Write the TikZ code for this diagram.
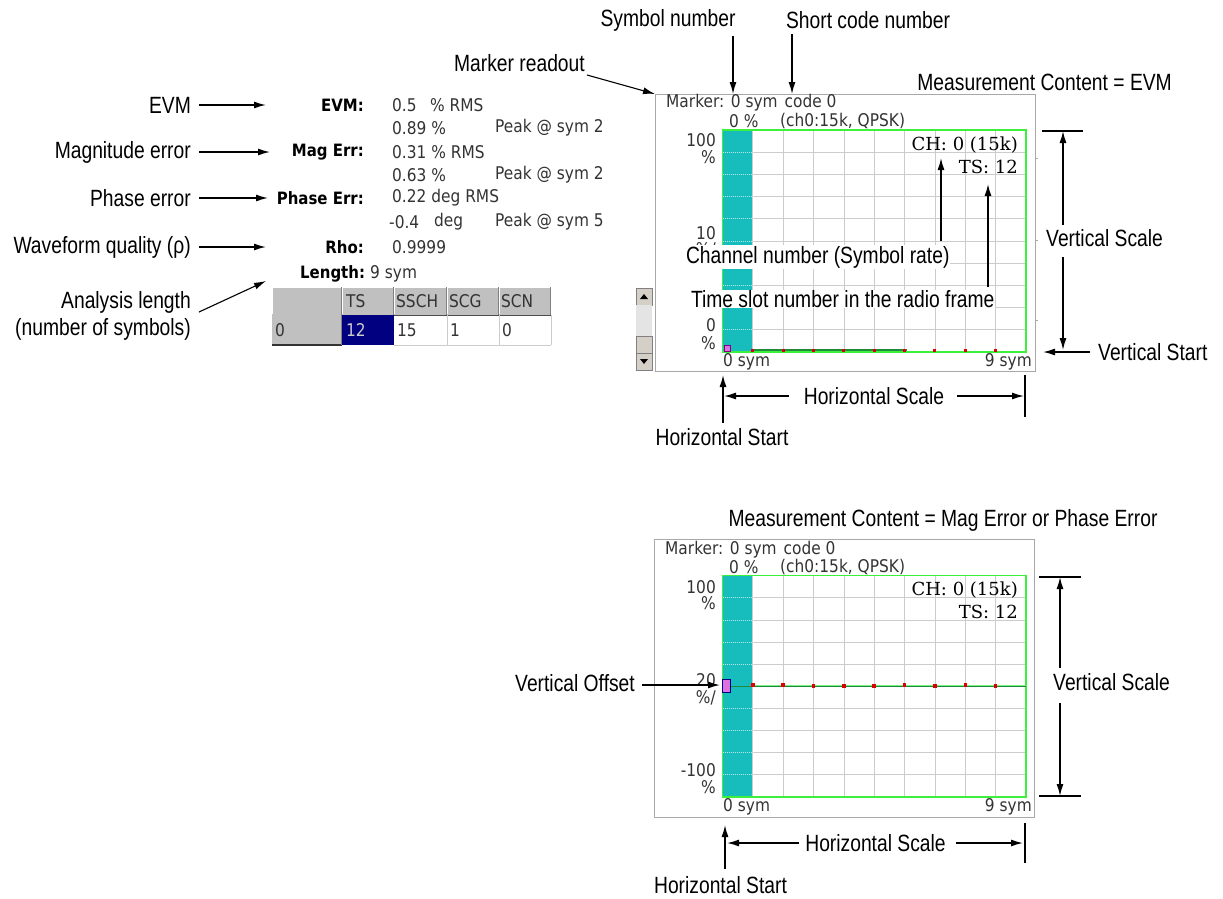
\documentclass[tikz,border=0pt]{standalone}
\usepackage{fontspec}
\setmainfont{Liberation Sans}
\newfontfamily\labf{Liberation Sans}[FakeStretch=0.82]
\newfontfamily\scrf{DejaVu Sans}[FakeStretch=0.88]
\newfontfamily\serf{DejaVu Serif}
\usetikzlibrary{arrows.meta}
\definecolor{gridgray}{HTML}{CCCCCC}
\definecolor{framegray}{HTML}{A8A8A8}
\definecolor{scrgreen}{HTML}{3CF03C}
\definecolor{tealcol}{HTML}{17BDBD}
\definecolor{navycell}{HTML}{000080}
\definecolor{btngray}{HTML}{D4D0C8}
\definecolor{tracegreen}{HTML}{1E8A3C}
\definecolor{tracelight}{HTML}{7CF07C}
\definecolor{scrtext}{HTML}{333333}
\definecolor{hdrgray}{HTML}{C0C0C0}
\definecolor{darkbevel}{HTML}{808080}
\definecolor{trackgray}{HTML}{E4E4E4}
\definecolor{mkfill}{HTML}{E070E0}
\tikzset{
  labtxt/.style={font=\labf\fontsize{23.5}{27}\selectfont, inner sep=0pt},
  scrtxt/.style={font=\scrf\fontsize{17.5}{20}\selectfont, text=scrtext, inner sep=0pt},
  scrbold/.style={font=\scrf\bfseries\fontsize{17}{20}\selectfont, text=black, inner sep=0pt},
  sertxt/.style={font=\serf\fontsize{18}{22}\selectfont, inner sep=0pt},
  arrw/.style={-{Latex[length=12pt,width=7pt]}, line width=1.4pt},
  plainln/.style={line width=1.6pt},
  framebox/.style={draw=framegray, line width=1pt, inner sep=0pt, anchor=north west},
  gridln/.style={draw=gridgray, line width=0.8pt},
  greenbox/.style={draw=scrgreen, line width=1.5pt},
  redpt/.style={fill=red!85!black},
  whitelab/.style={fill=white, inner sep=0.8pt},
  btnbox/.style={draw=darkbevel, fill=btngray, minimum width=16pt, inner sep=0pt, anchor=north west}
}
\newcommand{\scrgrid}[2]{%
  \fill[tealcol] (722.5,#1) rectangle (752.8,#2);
  \foreach \i in {1,...,9} {\draw[gridln] ({722.5+\i*30.35},#1) -- ({722.5+\i*30.35},#2);}
  \foreach \j in {1,...,9} {%
    \draw[gridln] (752.8,{#1+\j*(#2-#1)/10}) -- (1026,{#1+\j*(#2-#1)/10});
    \draw[draw=white!65!tealcol, line width=0.8pt, dash pattern=on 1pt off 1pt] (722.5,{#1+\j*(#2-#1)/10}) -- (752.8,{#1+\j*(#2-#1)/10});}
  \draw[greenbox] (722.5,#1) rectangle (1026,#2);
}
\begin{document}
\begin{tikzpicture}[x=1pt,y=-1pt]
\useasboundingbox (0,0) rectangle (1223,898);

% ================= left readout =================
\node[labtxt, anchor=east] (lEVM) at (191,105) {EVM};
\node[labtxt, anchor=east] (lMag) at (191,152) {Magnitude error};
\node[labtxt, anchor=east] (lPh) at (191,198) {Phase error};
\node[labtxt, anchor=east] (lRho) at (191,247) {Waveform quality (ρ)};
\node[labtxt, anchor=east, align=right] (lLen) at (191,316) {Analysis length\\(number of symbols)};

\coordinate (tEVM) at (266,105);
\coordinate (tMag) at (270,152);
\coordinate (tPh) at (268,198);
\coordinate (tRho) at (266,247);
\coordinate (tLen) at (266,281);
\draw[arrw] ([xshift=8pt]lEVM.east) -- (tEVM);
\draw[arrw] ([xshift=8pt]lMag.east) -- (tMag);
\draw[arrw] ([xshift=8pt]lPh.east) -- (tPh);
\draw[arrw] ([xshift=8pt]lRho.east) -- (tRho);
\draw[arrw, line width=1.1pt] ([xshift=8pt,yshift=4pt]lLen.east) -- (tLen);

\node[scrbold, anchor=east] (rEVM) at (364,105) {EVM:};
\node[scrbold, anchor=east] (rMag) at (364,152) {Mag Err:};
\node[scrbold, anchor=east] (rPh) at (364,198) {Phase Err:};
\node[scrbold, anchor=east] (rRho) at (364,247) {Rho:};
\node[scrbold, anchor=west] (rLen) at (300,274) {Length:};
\node[scrtxt, anchor=west] (vLen) at (370,274) {9 sym};

\node[scrtxt, anchor=west] (v1a) at (392,105) {0.5};
\node[scrtxt, anchor=west] (v1b) at (430,105) {\% RMS};
\node[scrtxt, anchor=west] (v2a) at (392,128) {0.89 \%};
\node[scrtxt, anchor=west] (v2b) at (495,128) {Peak @ sym 2};
\node[scrtxt, anchor=west] (v3a) at (392,152) {0.31 \% RMS};
\node[scrtxt, anchor=west] (v4a) at (392,175) {0.63 \%};
\node[scrtxt, anchor=west] (v4b) at (495,175) {Peak @ sym 2};
\node[scrtxt, anchor=west] (v5a) at (392,198) {0.22 deg RMS};
\node[scrtxt, anchor=west] (v6a) at (389,222) {-0.4};
\node[scrtxt, anchor=west] (v6b) at (434,222) {deg};
\node[scrtxt, anchor=west] (v6c) at (495,222) {Peak @ sym 5};
\node[scrtxt, anchor=west] (v7a) at (392,247) {0.9999};

% table
\fill[hdrgray] (272,287) rectangle (551,315);
\foreach \xa/\xb in {272/342,342/394,394/447,447/499,499/551} {
  \draw[white, line width=1pt] (\xa+0.5,314) -- (\xa+0.5,287.5) -- (\xb-1,287.5);
  \draw[darkbevel, line width=1pt] (\xb-0.5,287) -- (\xb-0.5,315);
}
\draw[black!70, line width=1pt] (272,315) -- (551,315);
\fill[hdrgray] (272,315) rectangle (342,345);
\draw[black!80, line width=1.5pt] (272,345) -- (342,345);
\draw[darkbevel, line width=1pt] (341.5,315) -- (341.5,345);
\fill[navycell] (342,315) rectangle (394,345);
\draw[gridgray, line width=1pt] (447,315) -- (447,345) (499,315) -- (499,345) (394,345) -- (551,345) (551,315) -- (551,345);
\node[scrtxt, anchor=west] (hTS) at (346,301) {TS};
\node[scrtxt, anchor=west] (hSS) at (396,301) {SSCH};
\node[scrtxt, anchor=west] (hSG) at (449,301) {SCG};
\node[scrtxt, anchor=west] (hSN) at (501,301) {SCN};
\node[scrtxt, anchor=west] (c0) at (275,330) {0};
\node[scrtxt, anchor=west, text=black!20] (c1) at (346,330) {12};
\node[scrtxt, anchor=west] (c2) at (397,330) {15};
\node[scrtxt, anchor=west] (c3) at (450,330) {1};
\node[scrtxt, anchor=west] (c4) at (502,330) {0};

% ================= top screen =================
\node[labtxt] (symn) at (668,20) {Symbol number};
\node[labtxt] (shcn) at (868,20) {Short code number};
\node[labtxt, anchor=east] (mkr) at (585,63) {Marker readout};
\node[labtxt, anchor=east] (mc1) at (1172,82) {Measurement Content = EVM};

\node[framebox, minimum width=380pt, minimum height=277pt] (scr1) at (655,94) {};
\coordinate (symtip) at (733,94);
\coordinate (shctip) at (792,94);
\draw[arrw] ([yshift=-5pt]symn.south -| symtip) -- (symtip);
\draw[arrw] ([yshift=-5pt]shcn.south -| shctip) -- (shctip);
\draw[arrw, line width=1.1pt] ([xshift=2pt,yshift=-12pt]mkr.east) -- (scr1.north west);
\foreach \yy in {158,240,320} {\draw[framegray, line width=1pt] (1035,\yy) -- (1038,\yy);}

% scrollbar
\node[btnbox, minimum height=17pt] (upb) at (636,288) {};
\fill[trackgray] (636,305) rectangle (652,336);
\node[btnbox, minimum height=17pt] (thb) at (636,336) {};
\node[btnbox, minimum height=17pt] (dnb) at (636,353) {};
\fill (640,299) -- (648,299) -- (644,294) -- cycle;
\fill (640,359) -- (648,359) -- (644,364) -- cycle;

\node[scrtxt, anchor=west] (m1a) at (666,103) {Marker: 0 sym\hspace{7pt}code 0};
\node[scrtxt, anchor=west] (m1b) at (729,121) {0 \%};
\node[scrtxt, anchor=west] (m1c) at (780,121) {(ch0:15k, QPSK)};

\scrgrid{130}{352}

\node[scrtxt, anchor=east] (y1a) at (716,140) {100};
\node[scrtxt, anchor=east] (y1b) at (716,157) {\%};
\node[scrtxt, anchor=east] (y1c) at (716,233) {10};
\node[scrtxt, anchor=east] (y1d) at (716,250) {\%/};
\node[scrtxt, anchor=east] (y1e) at (716,325) {0};
\node[scrtxt, anchor=east] (y1f) at (716,343) {\%};
\node[scrtxt, anchor=west] (x1a) at (723,362) {0 sym};
\node[scrtxt, anchor=east] (x1b) at (1032,362) {9 sym};
\node[sertxt, anchor=east] (ch1) at (1018,145) {CH: 0 (15k)};
\node[sertxt, anchor=east] (ts1) at (1018,167) {TS: 12};

% trace top
\draw[tracegreen, line width=1.5pt] (753,350) -- (907,350);
\foreach \i in {1,...,9} {\fill[redpt] ({722.5+\i*30.35-1.5},348.5) rectangle ++(3,3);}
\draw[violet, line width=1pt, fill=mkfill] (724.5,345) rectangle (730.5,351);

% labels inside top screen
\node[labtxt, whitelab, anchor=west] (chn) at (685,257) {Channel number (Symbol rate)};
\node[labtxt, whitelab, anchor=west] (tsn) at (690,299) {Time slot number in the radio frame};
\coordinate (chtip) at (941,158);
\coordinate (tstip) at (988,184);
\draw[arrw] ([yshift=4pt]chn.north -| chtip) -- (chtip);
\draw[arrw] ([yshift=2pt]tsn.north -| tstip) -- (tstip);

% right annotations top
\node[labtxt, anchor=west] (vsc1) at (1046,238) {Vertical Scale};
\coordinate (vs1top) at (1063,131);
\coordinate (vs1bot) at (1063,350);
\coordinate (tk1a) at (1042,131);
\coordinate (tk1b) at (1083,131);
\draw[plainln] (tk1a) -- (tk1b);
\draw[arrw] ([yshift=4pt]vsc1.north -| vs1top) -- (vs1top);
\draw[arrw] ([yshift=-10pt]vsc1.south -| vs1bot) -- (vs1bot);
\node[labtxt, anchor=west] (vst1) at (1098,352) {Vertical Start};
\coordinate (vst1tip) at (1043,352);
\draw[arrw] ([xshift=-8pt]vst1.west) -- (vst1tip);

% horizontal annotations top
\node[labtxt] (hsc1) at (874,396) {Horizontal Scale};
\coordinate (hs1l) at (724,396);
\coordinate (hs1r) at (1024,396);
\draw[arrw] ([xshift=-15pt]hsc1.west) -- (hs1l);
\draw[arrw] ([xshift=13pt]hsc1.east) -- (hs1r);
\coordinate (hb1a) at (1025,375);
\coordinate (hb1b) at (1025,417);
\draw[plainln] (hb1a) -- (hb1b);
\node[labtxt] (hst1) at (722,437) {Horizontal Start};
\coordinate (hst1tip) at (723,375);
\draw[arrw] ([yshift=5pt]hst1.north -| hst1tip) -- (hst1tip);

% ================= bottom screen =================
\node[labtxt] (mc2) at (943,520) {Measurement Content = Mag Error or Phase Error};
\node[framebox, minimum width=380pt, minimum height=278pt] (scr2) at (654,539) {};
\node[scrtxt, anchor=west] (m2a) at (665,550) {Marker: 0 sym\hspace{7pt}code 0};
\node[scrtxt, anchor=west] (m2b) at (729,567) {0 \%};
\node[scrtxt, anchor=west] (m2c) at (780,567) {(ch0:15k, QPSK)};

\scrgrid{575.7}{797}

\node[scrtxt, anchor=east] (y2a) at (716,587) {100};
\node[scrtxt, anchor=east] (y2b) at (716,603) {\%};
\node[scrtxt, anchor=east] (y2c) at (716,680) {20};
\node[scrtxt, anchor=east] (y2d) at (716,698) {\%/};
\node[scrtxt, anchor=east] (y2e) at (716,770) {-100};
\node[scrtxt, anchor=east] (y2f) at (716,787) {\%};
\node[scrtxt, anchor=west] (x2a) at (723,807) {0 sym};
\node[scrtxt, anchor=east] (x2b) at (1032,807) {9 sym};
\node[sertxt, anchor=east] (ch2) at (1018,590) {CH: 0 (15k)};
\node[sertxt, anchor=east] (ts2) at (1018,612) {TS: 12};

% trace bottom
\draw[tracelight, line width=2.5pt] (753,686) -- (1026,686);
\draw[tracegreen, line width=1pt] (722.5,686) -- (1026,686);
\foreach \i/\dy in {1/-1,2/-1,3/0,4/0,5/0,6/-1,7/0,8/-1,9/0} {\fill[redpt] ({722.5+\i*30.35-1.8},{684.2+\dy}) rectangle ++(3.6,3.6);}
\draw[navycell, line width=1pt, fill=mkfill] (722.5,679) rectangle (730,692);

\node[labtxt, anchor=west] (voff) at (515,683) {Vertical Offset};
\coordinate (vofftip) at (720,685);
\draw[arrw] ([xshift=7pt,yshift=-2pt]voff.east) -- (vofftip);

% right annotations bottom
\node[labtxt, anchor=west] (vsc2) at (1053,682) {Vertical Scale};
\coordinate (vs2top) at (1060,577);
\coordinate (vs2bot) at (1060,796);
\draw[plainln] (1039,577) -- (1081,577);
\draw[plainln] (1039,796) -- (1081,796);
\draw[arrw] ([yshift=5pt]vsc2.north -| vs2top) -- (vs2top);
\draw[arrw] ([yshift=-12pt]vsc2.south -| vs2bot) -- (vs2bot);

% horizontal annotations bottom
\node[labtxt] (hsc2) at (875.5,843) {Horizontal Scale};
\coordinate (hs2l) at (727,843);
\coordinate (hs2r) at (1023,843);
\draw[arrw] ([xshift=-6pt]hsc2.west) -- (hs2l);
\draw[arrw] ([xshift=10pt]hsc2.east) -- (hs2r);
\coordinate (hb2a) at (1025,823);
\coordinate (hb2b) at (1025,863);
\draw[plainln] (hb2a) -- (hb2b);
\node[labtxt] (hst2) at (720.5,885) {Horizontal Start};
\coordinate (hst2tip) at (725,825);
\draw[arrw] ([yshift=7pt]hst2.north -| hst2tip) -- (hst2tip);
\end{tikzpicture}
\end{document}
